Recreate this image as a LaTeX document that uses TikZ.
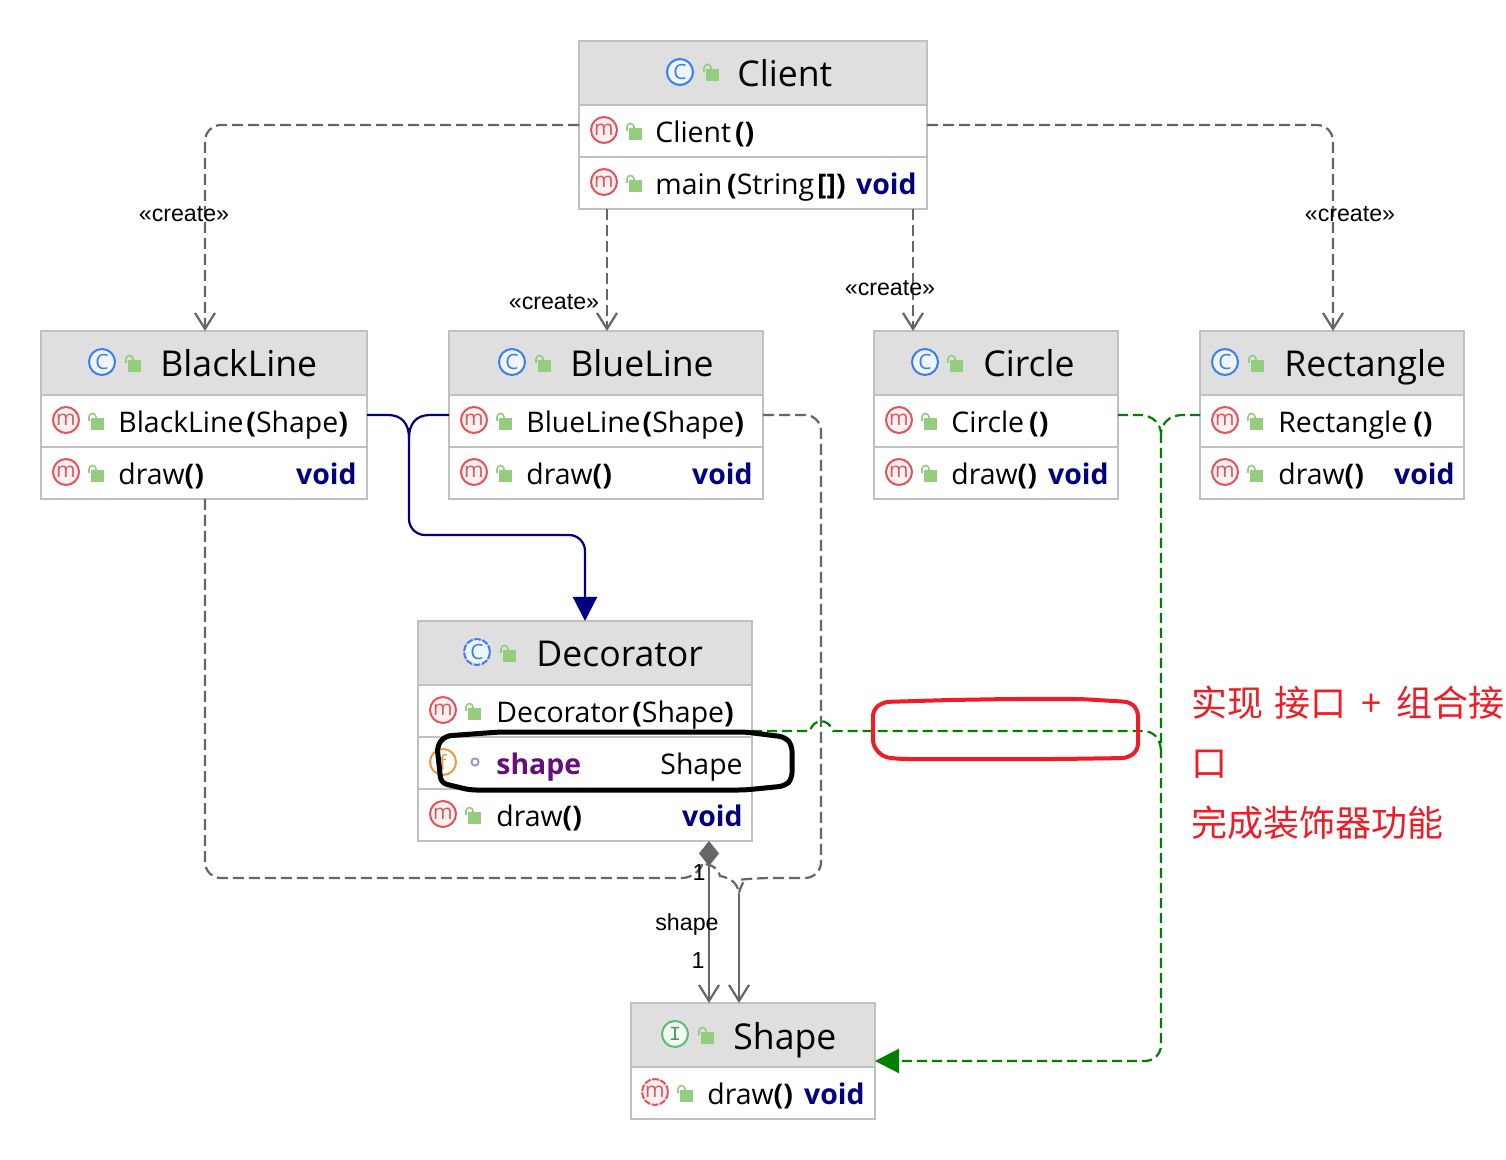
\documentclass[tikz,border=0pt]{standalone}
\usepackage{xcolor}
\usepackage{fontspec}
\setmainfont{Open Sans}
\newfontfamily\labelfont{Liberation Sans}
\newfontfamily\ifacefont{Liberation Mono}
\newfontfamily\cjk{Noto Sans CJK SC}
\usetikzlibrary{arrows.meta,positioning}

\definecolor{boxgray}{RGB}{192,192,192}
\definecolor{headgray}{RGB}{223,223,223}
\definecolor{linegray}{RGB}{102,102,102}
\definecolor{diagred}{RGB}{238,28,37}
\definecolor{methred}{RGB}{226,84,90}
\definecolor{classblue}{RGB}{60,125,240}
\definecolor{fieldorange}{RGB}{243,150,60}
\definecolor{ifacegreen}{RGB}{90,190,115}
\definecolor{lockgreen}{RGB}{147,205,125}
\definecolor{realgreen}{RGB}{0,128,0}
\definecolor{fieldpurple}{RGB}{102,14,122}
\definecolor{typenavy}{RGB}{0,0,128}

\newcommand{\rettype}{\textcolor{typenavy}{\textbf{void}}}

\tikzset{
  headbox/.style={rectangle, draw=boxgray, fill=headgray, line width=1pt, inner sep=0pt, outer sep=0pt, minimum height=32pt},
  rowbox/.style={rectangle, draw=boxgray, fill=white, line width=1pt, inner sep=0pt, outer sep=0pt, minimum height=26pt},
  titletext/.style={anchor=base west, inner sep=0pt, xshift=-.5pt, font=\fontsize{17.8}{20}\selectfont},
  rowtext/.style={anchor=base west, inner sep=0pt, xshift=-.5pt, yshift=-.5pt, font=\fontsize{14.2}{17}\selectfont},
  rowtype/.style={anchor=base east, inner sep=0pt, xshift=.5pt, yshift=-.5pt, font=\fontsize{14.2}{17}\selectfont},
  arrowlabel/.style={inner sep=0pt, font=\labelfont\fontsize{11.6}{14}\selectfont},
  classicon/.style={circle, draw=classblue, fill=classblue!8, text=classblue, line width=1pt, minimum size=13pt, inner sep=0pt, font=\fontsize{10.5}{10}\selectfont},
  methicon/.style={circle, draw=methred, fill=methred!8, text=methred, line width=1pt, minimum size=13pt, inner sep=0pt, font=\fontsize{10.5}{10}\selectfont},
  fieldicon/.style={circle, draw=fieldorange, text=fieldorange, line width=1pt, minimum size=13pt, inner sep=0pt, font=\fontsize{10.5}{10}\selectfont},
  ifaceicon/.style={circle, draw=ifacegreen, fill=ifacegreen!8, text=ifacegreen!80!black, line width=1pt, minimum size=13pt, inner sep=0pt, font=\ifacefont\fontsize{10}{10}\selectfont},
  ringicon/.style={circle, draw=boxgray!80!blue, line width=1pt, minimum size=3.6pt, inner sep=0pt},
  abstractdash/.style={dash pattern=on 3.4pt off .7pt},
  createline/.style={draw=linegray, line width=1.1pt, dash pattern=on 5.5pt off 2.5pt, rounded corners=8pt, -{Straight Barb[length=8pt,width=10pt]}},
  plainline/.style={draw=linegray, line width=1.1pt, dash pattern=on 5.5pt off 2.5pt, rounded corners=8pt},
  assocline/.style={draw=linegray, line width=1.1pt, {Diamond[length=12.5pt,width=10pt,fill=linegray]}-{Straight Barb[length=8pt,width=10pt]}},
  extendline/.style={draw=typenavy, line width=1.1pt, rounded corners=8pt},
  realline/.style={draw=realgreen, line width=1.1pt, dash pattern=on 5pt off 2.5pt, rounded corners=8pt},
  lockicon/.pic={
    \fill [lockgreen] (-5,-2) rectangle (8,10);
    \draw [lockgreen, line width=.8pt] (-7,1) -- (-7,-3) arc [start angle=180, end angle=360, radius=3.5] -- (0,-2);
  }
}

\begin{document}
\begin{tikzpicture}[x=.5pt,y=-.5pt]
\useasboundingbox [fill=white] (0,0) rectangle (1506,1160);

% Client
\node (clienthead) [headbox, minimum width=174pt, anchor=north west] at (579,41) {};
\node (clientctor) [rowbox, minimum width=174pt, below=0pt of clienthead] {};
\node (clientmain) [rowbox, minimum width=174pt, below=0pt of clientctor] {};
\node (clienticon) [classicon] at (680,72) {C};
\pic at (711,71) {lockicon};
\node (clientname) [titletext] at (738,87) {Client};
\node (ctoricon) [methicon] at (604,130) {m};
\pic at (634,130) {lockicon};
\node (ctortext) [rowtext] at (656,142) {Client\kern2pt\textbf{()}};
\node (mainicon) [methicon] at (604,182) {m};
\pic at (634,182) {lockicon};
\node (maintext) [rowtext] at (656,194) {main\kern2.5pt\textbf{(}String\kern1.5pt\textbf{[])}};
\node (maintype) [rowtype] at (916,194) {\rettype};

% BlackLine
\node (blackhead) [headbox, minimum width=163pt, anchor=north west] at (41,331) {};
\node (blackctor) [rowbox, minimum width=163pt, below=0pt of blackhead] {};
\node (blackdraw) [rowbox, minimum width=163pt, below=0pt of blackctor] {};
\node (blackicon) [classicon] at (102,362) {C};
\pic at (133,362) {lockicon};
\node (blackname) [titletext] at (161,377) {BlackLine};
\node (blackctoricon) [methicon] at (66,420) {m};
\pic at (96,420) {lockicon};
\node (blackctortext) [rowtext] at (119,432) {BlackLine\kern1.5pt\textbf{(}Shape\textbf{)}};
\node (blackdrawicon) [methicon] at (66,472) {m};
\pic at (96,472) {lockicon};
\node (blackdrawtext) [rowtext] at (119,484) {draw\textbf{()}};
\node (blackdrawtype) [rowtype] at (356,484) {\rettype};

% BlueLine
\node (bluehead) [headbox, minimum width=157pt, anchor=north west] at (449,331) {};
\node (bluector) [rowbox, minimum width=157pt, below=0pt of bluehead] {};
\node (bluedraw) [rowbox, minimum width=157pt, below=0pt of bluector] {};
\node (blueicon) [classicon] at (512,362) {C};
\pic at (543,362) {lockicon};
\node (bluename) [titletext] at (571,377) {BlueLine};
\node (bluectoricon) [methicon] at (474,420) {m};
\pic at (504,420) {lockicon};
\node (bluectortext) [rowtext] at (527,432) {BlueLine\kern1pt\textbf{(}Shape\textbf{)}};
\node (bluedrawicon) [methicon] at (474,472) {m};
\pic at (504,472) {lockicon};
\node (bluedrawtext) [rowtext] at (527,484) {draw\textbf{()}};
\node (bluedrawtype) [rowtype] at (752,484) {\rettype};

% Circle
\node (circlehead) [headbox, minimum width=122pt, anchor=north west] at (874,331) {};
\node (circlector) [rowbox, minimum width=122pt, below=0pt of circlehead] {};
\node (circledraw) [rowbox, minimum width=122pt, below=0pt of circlector] {};
\node (circleicon) [classicon] at (925,362) {C};
\pic at (955,362) {lockicon};
\node (circlename) [titletext] at (984,377) {Circle};
\node (circlectoricon) [methicon] at (899,420) {m};
\pic at (929,420) {lockicon};
\node (circlectortext) [rowtext] at (952,432) {Circle\kern2.5pt\textbf{()}};
\node (circledrawicon) [methicon] at (899,472) {m};
\pic at (929,472) {lockicon};
\node (circledrawtext) [rowtext] at (952,484) {draw\textbf{()}};
\node (circledrawtype) [rowtype] at (1108,484) {\rettype};

% Rectangle
\node (recthead) [headbox, minimum width=132pt, anchor=north west] at (1200,331) {};
\node (rectctor) [rowbox, minimum width=132pt, below=0pt of recthead] {};
\node (rectdraw) [rowbox, minimum width=132pt, below=0pt of rectctor] {};
\node (recticon) [classicon] at (1225,362) {C};
\pic at (1256,362) {lockicon};
\node (rectname) [titletext] at (1285,377) {Rectangle};
\node (rectctoricon) [methicon] at (1225,420) {m};
\pic at (1255,420) {lockicon};
\node (rectctortext) [rowtext] at (1279,432) {Rectangle\kern3pt\textbf{()}};
\node (rectdrawicon) [methicon] at (1225,472) {m};
\pic at (1255,472) {lockicon};
\node (rectdrawtext) [rowtext] at (1279,484) {draw\textbf{()}};
\node (rectdrawtype) [rowtype] at (1454,484) {\rettype};

% Decorator
\node (decohead) [headbox, minimum width=167pt, anchor=north west] at (418,621) {};
\node (decoctor) [rowbox, minimum width=167pt, below=0pt of decohead] {};
\node (decofield) [rowbox, minimum width=167pt, below=0pt of decoctor] {};
\node (decodraw) [rowbox, minimum width=167pt, below=0pt of decofield] {};
\node (decoicon) [classicon, abstractdash] at (477,652) {C};
\pic at (508,652) {lockicon};
\node (deconame) [titletext] at (537,667) {Decorator};
\node (decoctoricon) [methicon] at (443,710) {m};
\pic at (473,710) {lockicon};
\node (decoctortext) [rowtext] at (497,721) {Decorator\kern1.5pt\textbf{(}Shape\textbf{)}};
\node (decofieldicon) [fieldicon] at (443,762) {f};
\node (decoring) [ringicon] at (475,762) {};
\node (decofieldtext) [rowtext, text=fieldpurple] at (497,773) {\textbf{shape}};
\node (decofieldtype) [rowtype] at (742,773) {Shape};
\node (decodrawicon) [methicon] at (443,814) {m};
\pic at (473,814) {lockicon};
\node (decodrawtext) [rowtext] at (497,825) {draw\textbf{()}};
\node (decodrawtype) [rowtype] at (742,825) {\rettype};

% Shape
\node (shapehead) [headbox, minimum width=122pt, anchor=north west] at (631,1003) {};
\node (shapedraw) [rowbox, minimum width=122pt, below=0pt of shapehead] {};
\node (shapeicon) [ifaceicon] at (675,1034) {I};
\pic at (706,1034) {lockicon};
\node (shapename) [titletext] at (734,1049) {Shape};
\node (shapedrawicon) [methicon, abstractdash] at (655,1092) {m};
\pic at (685,1092) {lockicon};
\node (shapedrawtext) [rowtext] at (708,1103) {draw\textbf{()}};
\node (shapedrawtype) [rowtype] at (864,1103) {\rettype};

% create arrows
\draw [createline] ([yshift=3pt]clientctor.west) -| ([xshift=82pt]blackhead.north west);
\draw [createline] ([xshift=14pt]clientmain.south west) -- ([xshift=79pt]bluehead.north west);
\draw [createline] ([xshift=-7pt]clientmain.south east) -- ([xshift=19.5pt]circlehead.north west);
\draw [createline] ([yshift=3pt]clientctor.east) -| ([xshift=66.5pt]recthead.north west);
\node (createa) [arrowlabel] at (184,214) {«create»};
\node (createb) [arrowlabel] at (554,302) {«create»};
\node (createc) [arrowlabel] at (890,288) {«create»};
\node (created) [arrowlabel] at (1350,214) {«create»};

% extends Decorator
\coordinate (navyjoin) at (409,438);
\coordinate (navybend) at (409,535);
\draw [extendline, sharp corners] ([yshift=3pt]blackctor.east) -- (388,415) .. controls (402,415) and (409,424) .. (navyjoin);
\draw [extendline, sharp corners] ([yshift=3pt]bluector.west) -- (430,415) .. controls (416,415) and (409,424) .. (navyjoin);
\draw [extendline, -{Triangle[length=12pt,width=12pt,fill=typenavy]}] (navyjoin) -- (navybend) -| ([xshift=83.5pt]decohead.north west);

% create Shape, dashed
\coordinate (blackcorner) at (205,878);
\coordinate (bluecorner) at (821,878);
\coordinate (grayjoin) at (739,893);
\draw [plainline] ([xshift=82pt]blackdraw.south west) -- (blackcorner) -- (698,878) [sharp corners] .. controls (702,866) and (715,861) .. (720,876) .. controls (730,878) and (737,882) .. (grayjoin);
\draw [plainline] ([yshift=3pt]bluector.east) -| (bluecorner) -- (757,878) [sharp corners] .. controls (747,879) and (741,884) .. (grayjoin);
\draw [createline, solid] (grayjoin) -- ([xshift=54pt]shapehead.north west);

% shape field
\draw [assocline] ([xshift=-21.5pt]decodraw.south east) -- ([xshift=39pt]shapehead.north west);
\node (assocone) [arrowlabel] at (699,873) {1};
\node (assocname) [arrowlabel] at (687,924) {shape};
\node (assoctwo) [arrowlabel] at (698,961) {1};

% implements Shape
\coordinate (greenjoin) at (1161,433);
\coordinate (greencorner) at (1161,1061);
\coordinate (greenend) at (1161,750);
\draw [realline, sharp corners] ([yshift=3pt]circlector.east) -- (1141,415) .. controls (1153,416) and (1160,423) .. (greenjoin);
\draw [realline, sharp corners] ([yshift=3pt]rectctor.west) -- (1181,415) .. controls (1169,416) and (1162,423) .. (greenjoin);
\draw [realline, -{Triangle[length=12pt,width=12pt,fill=realgreen]}] (greenjoin) -- (greencorner) -- ([yshift=3pt]shapehead.south east);
\draw [realline, sharp corners] ([yshift=3pt]decoctor.south east) -- (810,731) .. controls (813,719) and (828,717) .. (833,731) -- (1143,731) .. controls (1153,731) and (1160,738) .. (greenend);

% marks
\draw [line width=2.5pt, black, rounded corners=3pt] (620,732) -- (745,732) -- (785,737) -- (792,745) -- (792,779) -- (785,786) -- (745,790) -- (470,790) -- (441,783) -- (437,746) -- (445,736) -- (500,732) -- cycle;
\draw [line width=2pt, diagred, rounded corners=3pt] (1010,699) -- (1080,699) -- (1130,702) -- (1138,710) -- (1138,750) -- (1128,758) -- (1060,759) -- (900,759) -- (883,757) -- (873,746) -- (873,710) -- (883,702) -- (950,700) -- cycle;
\node (notetext) [anchor=north west, inner sep=0pt, align=left, text=diagred, font={\cjk\fontsize{18}{30}\selectfont}] at (1191,686) {实现\hspace{5.5pt}接口\hspace{7.5pt}+\hspace{7.5pt}组合接\\口\\完成装饰器功能};
\end{tikzpicture}
\end{document}
